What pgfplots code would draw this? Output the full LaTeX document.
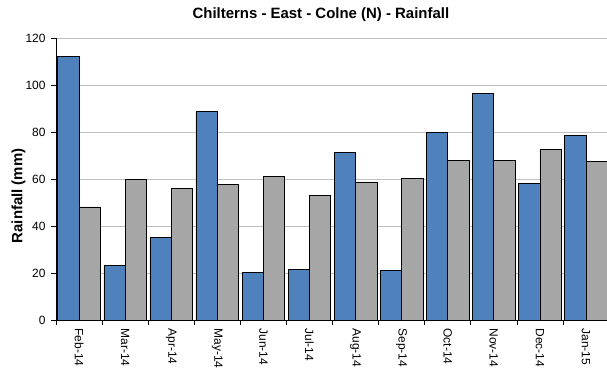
\documentclass[border=0pt]{standalone}
\usepackage{pgfplots}
\pgfplotsset{compat=1.18}
\usepackage{fontspec}
\setmainfont{Liberation Sans}

\definecolor{actualblue}{HTML}{4F81BD}
\definecolor{avggray}{HTML}{A6A6A6}
\definecolor{gridgray}{HTML}{C0C0C0}

% Monthly rainfall (mm): actual and long-term average
\pgfplotstableread{
idx month  actual average
0   Feb-14 112.2  48.1
1   Mar-14 23.2   59.9
2   Apr-14 35.0   56.0
3   May-14 88.8   57.6
4   Jun-14 20.4   61.1
5   Jul-14 21.6   52.9
6   Aug-14 71.3   58.8
7   Sep-14 21.1   60.1
8   Oct-14 79.8   67.9
9   Nov-14 96.4   67.9
10  Dec-14 58.2   72.6
11  Jan-15 78.6   67.4
}\rainfall

\begin{document}
\begin{tikzpicture}
\begin{axis}[
  at={(0,0)}, anchor=south west,
  scale only axis,
  width=553bp, height=282bp,
  ybar=0pt, bar width=21.3bp,
  xmin=-0.5, xmax=11.5,
  ymin=0, ymax=120,
  ytick={0,20,...,120},
  xtick={0,...,11},
  xticklabels={Feb-14,Mar-14,Apr-14,May-14,Jun-14,Jul-14,Aug-14,Sep-14,Oct-14,Nov-14,Dec-14,Jan-15},
  minor xtick={-0.5,0.5,...,11.5},
  major x tick style={draw=none},
  minor x tick style={black, line width=0.6bp},
  y tick style={black, line width=0.6bp},
  tick align=outside,
  major tick length=5bp, minor tick length=5bp,
  axis x line*=bottom, axis y line*=left,
  axis line style={black, line width=0.8bp, -},
  ymajorgrids, grid style={gridgray, line width=0.8bp},
  /pgf/number format/assume math mode=true,
  tick label style={font=\fontsize{12}{14}\selectfont},
  xticklabel style={rotate=-90, anchor=west, xshift=0bp},
  yticklabel style={xshift=-2bp},
  ylabel={Rainfall (mm)},
  ylabel style={font=\bfseries\fontsize{15}{18}\selectfont, at={(rel axis cs:-0.0678,0.44)}, anchor=center},
  title={Chilterns - East - Colne (N) - Rainfall},
  every axis title shift=0pt,
  title style={font=\bfseries\fontsize{15}{18}\selectfont, at={(rel axis cs:0.479,1.082)}, anchor=center},
  clip=false,
]
\addplot[fill=actualblue, draw=black, line width=0.6bp] table[x=idx, y=actual] {\rainfall};
\addplot[fill=avggray, draw=black, line width=0.6bp] table[x=idx, y=average] {\rainfall};
\end{axis}
\pgfresetboundingbox
\path[use as bounding box] (-56bp,-52bp) rectangle (551bp,320bp);
\end{tikzpicture}
\end{document}
